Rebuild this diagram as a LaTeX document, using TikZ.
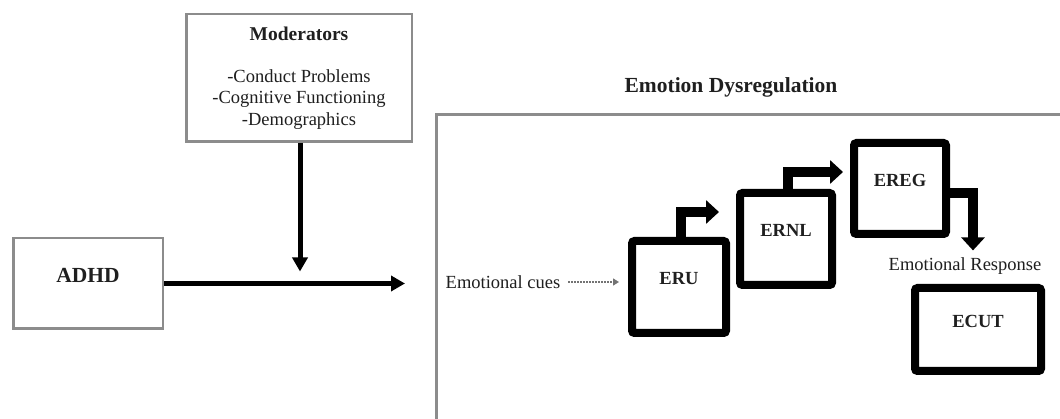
\documentclass[tikz,border=0pt]{standalone}
\usepackage{fontspec}
\setmainfont{Liberation Serif}
\usetikzlibrary{arrows.meta}
\begin{document}
\begin{tikzpicture}[x=1pt,y=-1pt,
  txt/.style={font=\fontsize{18.5}{21.5}\selectfont, text=black!88, inner sep=0pt},
  graybox/.style={draw=black!45, line width=2.5pt, inner sep=0pt},
  thickbox/.style={draw=black, line width=8pt, rounded corners=2.5pt, inner sep=0pt},
  boxlabel/.style={label={[txt, font=\fontsize{18.5}{21.5}\selectfont\bfseries, yshift=8.5pt]center:#1}},
  thinarrow/.style={line width=5pt, draw=black, -{Triangle[width=15pt,length=14pt]}},
  blockarrow/.style={line width=10pt, draw=black, line join=miter, -{Triangle[width=23pt,length=13pt]}}]
\useasboundingbox (0,0) rectangle (1060,419);
\fill[white] (0,0) rectangle (1060,419);

% left part
\node[graybox, minimum width=225.5pt, minimum height=127.5pt, align=center, txt] (mod) at (299,78)
  {{\fontsize{19.5}{21.5}\selectfont\bfseries Moderators}\\[20pt]-Conduct Problems\\-Cognitive Functioning\\-Demographics};
\node[graybox, minimum width=149.5pt, minimum height=90.5pt,
  label={[txt, font=\fontsize{21.5}{24}\selectfont\bfseries, yshift=8.5pt]center:ADHD}] (adhd) at (88,283.5) {};

% emotion dysregulation frame
\node[graybox, anchor=north west, minimum width=700pt, minimum height=400pt] (emo) at (435,113.5) {};
\node[txt, font=\fontsize{21.5}{24}\selectfont\bfseries] (title) at (731,87) {Emotion Dysregulation};

\draw[thinarrow, shorten >=30pt] (adhd.east) -- (adhd.east -| emo.west);
\draw[thinarrow, shorten >=12pt] ([xshift=1pt]mod.south) -- ([xshift=1pt]mod.south |- adhd.east);

% stages
\node[thickbox, minimum width=94pt, minimum height=92pt, boxlabel=ERU] (ERU) at (679,287) {};
\node[thickbox, minimum width=92pt, minimum height=92pt, boxlabel=ERNL] (ERNL) at (786,239) {};
\node[thickbox, minimum width=92pt, minimum height=91pt, boxlabel=EREG] (EREG) at (900,188.5) {};
\node[thickbox, minimum width=126pt, minimum height=83pt, boxlabel=ECUT] (ECUT) at (978,329.5) {};

\node[txt] (cues) at (503,282) {Emotional cues};
\node[txt] (resp) at (965,266) {Emotional Response};

\draw[black!55, line width=1.4pt, dash pattern=on 1.5pt off 1.5pt,
  -{Triangle[width=7pt,length=6pt]}, shorten <=8pt, shorten >=9pt]
  (cues.east) -- (cues.east -| ERU.west);

\draw[blockarrow, shorten >=17pt] ([xshift=2pt]ERU.north) |- ([yshift=27pt]ERNL.west);
\draw[blockarrow, shorten >=7pt] ([xshift=2pt]ERNL.north) |- ([yshift=16.5pt]EREG.west);
\draw[blockarrow, shorten >=7pt] ([yshift=-4.5pt]EREG.east) -| ([xshift=8pt]resp.north);
\end{tikzpicture}
\end{document}
